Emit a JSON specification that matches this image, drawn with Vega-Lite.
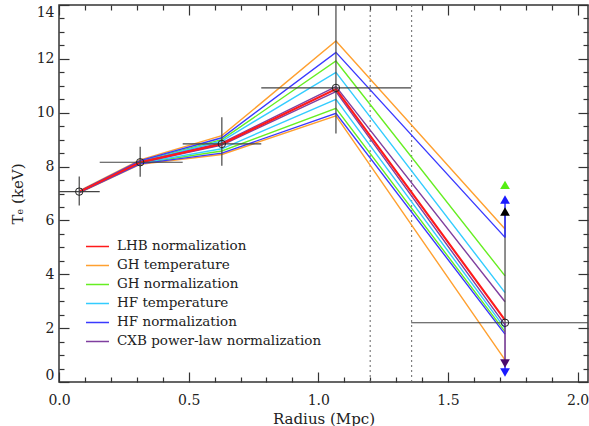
{
  "$schema": "https://vega.github.io/schema/vega-lite/v6.json",
  "width": 529,
  "height": 377,
  "autosize": {"type": "none"},
  "padding": {"left": 59, "top": 5, "right": 1, "bottom": 44},
  "background": "white",
  "config": {
    "view": {"stroke": "#333333", "strokeWidth": 1.5},
    "font": "DejaVu Serif",
    "axis": {"domain": false, "grid": false, "tickColor": "#333333", "tickWidth": 1.2, "labelColor": "#222222", "labelFont": "DejaVu Serif", "labelFontSize": 14, "titleFont": "DejaVu Serif", "titleFontSize": 15, "titleFontWeight": "normal", "titleColor": "#222222"}
  },
  "datasets": {
    "models": [
      {"series": "GH temperature", "bound": "hi", "r": 0.078, "t": 7.10},
      {"series": "GH temperature", "bound": "hi", "r": 0.313, "t": 8.25},
      {"series": "GH temperature", "bound": "hi", "r": 0.628, "t": 9.15},
      {"series": "GH temperature", "bound": "hi", "r": 1.068, "t": 12.66},
      {"series": "GH temperature", "bound": "hi", "r": 1.72, "t": 5.68},
      {"series": "GH temperature", "bound": "lo", "r": 0.078, "t": 7.02},
      {"series": "GH temperature", "bound": "lo", "r": 0.313, "t": 8.08},
      {"series": "GH temperature", "bound": "lo", "r": 0.628, "t": 8.45},
      {"series": "GH temperature", "bound": "lo", "r": 1.068, "t": 9.88},
      {"series": "GH temperature", "bound": "lo", "r": 1.72, "t": 0.82},
      {"series": "GH normalization", "bound": "hi", "r": 0.078, "t": 7.07},
      {"series": "GH normalization", "bound": "hi", "r": 0.313, "t": 8.20},
      {"series": "GH normalization", "bound": "hi", "r": 0.628, "t": 9.00},
      {"series": "GH normalization", "bound": "hi", "r": 1.068, "t": 11.92},
      {"series": "GH normalization", "bound": "hi", "r": 1.72, "t": 3.94},
      {"series": "GH normalization", "bound": "lo", "r": 0.078, "t": 7.04},
      {"series": "GH normalization", "bound": "lo", "r": 0.313, "t": 8.12},
      {"series": "GH normalization", "bound": "lo", "r": 0.628, "t": 8.58},
      {"series": "GH normalization", "bound": "lo", "r": 1.068, "t": 10.16},
      {"series": "GH normalization", "bound": "lo", "r": 1.72, "t": 1.87},
      {"series": "HF temperature", "bound": "hi", "r": 0.078, "t": 7.07},
      {"series": "HF temperature", "bound": "hi", "r": 0.313, "t": 8.18},
      {"series": "HF temperature", "bound": "hi", "r": 0.628, "t": 8.95},
      {"series": "HF temperature", "bound": "hi", "r": 1.068, "t": 11.50},
      {"series": "HF temperature", "bound": "hi", "r": 1.72, "t": 3.32},
      {"series": "HF temperature", "bound": "lo", "r": 0.078, "t": 7.05},
      {"series": "HF temperature", "bound": "lo", "r": 0.313, "t": 8.13},
      {"series": "HF temperature", "bound": "lo", "r": 0.628, "t": 8.66},
      {"series": "HF temperature", "bound": "lo", "r": 1.068, "t": 10.50},
      {"series": "HF temperature", "bound": "lo", "r": 1.72, "t": 1.99},
      {"series": "HF normalization", "bound": "hi", "r": 0.078, "t": 7.08},
      {"series": "HF normalization", "bound": "hi", "r": 0.313, "t": 8.22},
      {"series": "HF normalization", "bound": "hi", "r": 0.628, "t": 9.07},
      {"series": "HF normalization", "bound": "hi", "r": 1.068, "t": 12.24},
      {"series": "HF normalization", "bound": "hi", "r": 1.72, "t": 5.37},
      {"series": "HF normalization", "bound": "lo", "r": 0.078, "t": 7.03},
      {"series": "HF normalization", "bound": "lo", "r": 0.313, "t": 8.10},
      {"series": "HF normalization", "bound": "lo", "r": 0.628, "t": 8.50},
      {"series": "HF normalization", "bound": "lo", "r": 1.068, "t": 9.98},
      {"series": "HF normalization", "bound": "lo", "r": 1.72, "t": 1.78},
      {"series": "CXB power-law normalization", "bound": "hi", "r": 0.078, "t": 7.07},
      {"series": "CXB power-law normalization", "bound": "hi", "r": 0.313, "t": 8.17},
      {"series": "CXB power-law normalization", "bound": "hi", "r": 0.628, "t": 8.88},
      {"series": "CXB power-law normalization", "bound": "hi", "r": 1.068, "t": 10.97},
      {"series": "CXB power-law normalization", "bound": "hi", "r": 1.72, "t": 2.98},
      {"series": "CXB power-law normalization", "bound": "lo", "r": 0.078, "t": 7.05},
      {"series": "CXB power-law normalization", "bound": "lo", "r": 0.313, "t": 8.14},
      {"series": "CXB power-law normalization", "bound": "lo", "r": 0.628, "t": 8.80},
      {"series": "CXB power-law normalization", "bound": "lo", "r": 1.068, "t": 10.78},
      {"series": "CXB power-law normalization", "bound": "lo", "r": 1.72, "t": 2.12},
      {"series": "LHB normalization", "bound": "mid", "r": 0.078, "t": 7.06},
      {"series": "LHB normalization", "bound": "mid", "r": 0.313, "t": 8.16},
      {"series": "LHB normalization", "bound": "mid", "r": 0.628, "t": 8.84},
      {"series": "LHB normalization", "bound": "mid", "r": 1.068, "t": 10.88},
      {"series": "LHB normalization", "bound": "mid", "r": 1.72, "t": 2.30}
    ],
    "obs": [
      {"r": 0.078, "t": 7.07, "rlo": 0.0, "rhi": 0.157, "tlo": 6.55, "thi": 7.63},
      {"r": 0.313, "t": 8.16, "rlo": 0.157, "rhi": 0.477, "tlo": 7.62, "thi": 8.74},
      {"r": 0.628, "t": 8.84, "rlo": 0.477, "rhi": 0.78, "tlo": 8.03, "thi": 9.83},
      {"r": 1.068, "t": 10.92, "rlo": 0.78, "rhi": 1.358, "tlo": 9.23, "thi": 15.0},
      {"r": 1.72, "t": 2.2, "rlo": 1.358, "rhi": 2.2, "tlo": 2.2, "thi": 6.33}
    ],
    "limits": [
      {"r": 1.72, "lo": 5.37, "hi": 6.78, "col": "#2a2aff"},
      {"r": 1.72, "lo": 0.69, "hi": 2.2, "col": "#6a2a8a"},
      {"r": 1.72, "lo": 0.35, "hi": 0.69, "col": "#2a2aff"}
    ],
    "arrows": [
      {"r": 1.72, "t": 7.32, "dir": "triangle-up", "col": "#55ee11"},
      {"r": 1.72, "t": 6.78, "dir": "triangle-up", "col": "#1a1aff"},
      {"r": 1.72, "t": 6.33, "dir": "triangle-up", "col": "#000000"},
      {"r": 1.72, "t": 0.69, "dir": "triangle-down", "col": "#4b0a6e"},
      {"r": 1.72, "t": 0.35, "dir": "triangle-down", "col": "#1a1aff"}
    ],
    "bounds": [{"r": 1.2}, {"r": 1.36}]
  },
  "resolve": {"axis": {"x": "independent", "y": "independent"}},
  "layer": [
    {
      "data": {"name": "bounds"},
      "mark": {"type": "rule", "strokeDash": [2, 3], "color": "#666666", "strokeWidth": 1},
      "encoding": {
        "x": {"field": "r", "type": "quantitative", "scale": {"domain": [0, 2.04], "nice": false, "zero": false}, "axis": null}
      }
    },
    {
      "data": {"name": "models"},
      "mark": {"type": "line"},
      "encoding": {
        "x": {"field": "r", "type": "quantitative", "scale": {"domain": [0, 2.04], "nice": false, "zero": false},
          "axis": {"orient": "bottom", "values": [0, 0.5, 1, 1.5, 2], "format": ".1f", "tickSize": -10, "labelPadding": 21, "labelFlush": false, "title": "Radius (Mpc)", "titlePadding": 4, "titleFont": "DejaVu Serif", "titleFontSize": 15, "titleFontWeight": "normal"}},
        "y": {"field": "t", "type": "quantitative", "scale": {"domain": [0, 14], "nice": false},
          "axis": {"orient": "left", "values": [0, 2, 4, 6, 8, 10, 12, 14], "tickSize": -10, "labelPadding": 15, "labelFlush": true, "title": "Tₑ (keV)", "titlePadding": 11, "titleFont": "DejaVu Serif", "titleFontSize": 15, "titleFontWeight": "normal"}},
        "color": {"field": "series", "type": "nominal",
          "scale": {"domain": ["LHB normalization", "GH temperature", "GH normalization", "HF temperature", "HF normalization", "CXB power-law normalization"],
                    "range": ["#ff1a1a", "#ffa030", "#66ee22", "#33ccff", "#3a3aff", "#7f3f9f"]},
          "legend": {"orient": "none", "legendX": 26, "legendY": 232, "title": null, "symbolType": "stroke", "symbolSize": 529, "symbolStrokeWidth": 1.5, "clipHeight": 18.8, "rowPadding": 0, "labelOffset": 7, "labelFont": "DejaVu Serif", "labelFontSize": 13.5, "labelColor": "#222222", "labelLimit": 400}},
        "strokeWidth": {"condition": {"test": "datum.series === 'LHB normalization'", "value": 2.1}, "value": 1.4},
        "detail": {"field": "bound"}
      }
    },
    {
      "data": {"name": "obs"},
      "mark": {"type": "rule", "color": "#444444", "strokeWidth": 1.2, "clip": true},
      "encoding": {
        "x": {"field": "rlo", "type": "quantitative", "scale": {"domain": [0, 2.04], "nice": false, "zero": false},
          "axis": {"orient": "bottom", "values": [0.1, 0.2, 0.3, 0.4, 0.6, 0.7, 0.8, 0.9, 1.1, 1.2, 1.3, 1.4, 1.6, 1.7, 1.8, 1.9], "tickSize": -5, "labels": false, "title": null}},
        "x2": {"field": "rhi"},
        "y": {"field": "t", "type": "quantitative", "scale": {"domain": [0, 14], "nice": false},
          "axis": {"orient": "left", "values": [0.5, 1, 1.5, 2.5, 3, 3.5, 4.5, 5, 5.5, 6.5, 7, 7.5, 8.5, 9, 9.5, 10.5, 11, 11.5, 12.5, 13, 13.5], "tickSize": -5, "labels": false, "title": null}}
      }
    },
    {
      "data": {"name": "obs"},
      "mark": {"type": "rule", "color": "#444444", "strokeWidth": 1.2, "clip": true},
      "encoding": {
        "x": {"field": "r", "type": "quantitative", "scale": {"domain": [0, 2.04], "nice": false, "zero": false},
          "axis": {"orient": "top", "values": [0, 0.5, 1, 1.5, 2], "tickSize": -10, "labels": false, "title": null}},
        "y": {"field": "tlo", "type": "quantitative", "scale": {"domain": [0, 14], "nice": false},
          "axis": {"orient": "right", "values": [0, 2, 4, 6, 8, 10, 12, 14], "tickSize": -10, "labels": false, "title": null}},
        "y2": {"field": "thi"}
      }
    },
    {
      "data": {"name": "limits"},
      "mark": {"type": "rule", "strokeWidth": 1.5},
      "encoding": {
        "x": {"field": "r", "type": "quantitative", "scale": {"domain": [0, 2.04], "nice": false, "zero": false},
          "axis": {"orient": "top", "values": [0.1, 0.2, 0.3, 0.4, 0.6, 0.7, 0.8, 0.9, 1.1, 1.2, 1.3, 1.4, 1.6, 1.7, 1.8, 1.9], "tickSize": -5, "labels": false, "title": null}},
        "y": {"field": "lo", "type": "quantitative", "scale": {"domain": [0, 14], "nice": false},
          "axis": {"orient": "right", "values": [0.5, 1, 1.5, 2.5, 3, 3.5, 4.5, 5, 5.5, 6.5, 7, 7.5, 8.5, 9, 9.5, 10.5, 11, 11.5, 12.5, 13, 13.5], "tickSize": -5, "labels": false, "title": null}},
        "y2": {"field": "hi"},
        "stroke": {"field": "col", "type": "nominal", "scale": null, "legend": null}
      }
    },
    {
      "data": {"name": "arrows"},
      "mark": {"type": "point", "filled": true, "size": 95, "opacity": 1},
      "encoding": {
        "x": {"field": "r", "type": "quantitative", "scale": {"domain": [0, 2.04], "nice": false, "zero": false}, "axis": null},
        "y": {"field": "t", "type": "quantitative", "scale": {"domain": [0, 14], "nice": false}, "axis": null},
        "shape": {"field": "dir", "type": "nominal", "scale": null, "legend": null},
        "fill": {"field": "col", "type": "nominal", "scale": null, "legend": null}
      }
    },
    {
      "data": {"name": "obs"},
      "mark": {"type": "point", "filled": false, "size": 55, "stroke": "#222222", "strokeWidth": 1, "opacity": 1},
      "encoding": {
        "x": {"field": "r", "type": "quantitative", "scale": {"domain": [0, 2.04], "nice": false, "zero": false}, "axis": null},
        "y": {"field": "t", "type": "quantitative", "scale": {"domain": [0, 14], "nice": false}, "axis": null}
      }
    }
  ]
}
